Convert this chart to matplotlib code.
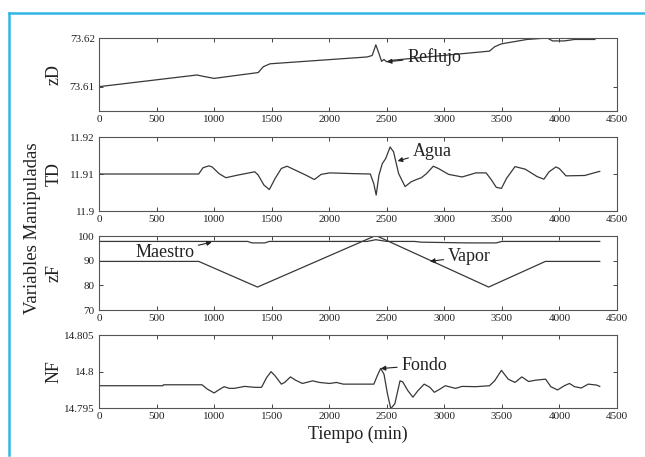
import matplotlib
matplotlib.use("Agg")
import matplotlib.pyplot as plt
from matplotlib.lines import Line2D

plt.rcParams['font.family'] = ['Liberation Serif', 'DejaVu Serif']

# ---------------- data ----------------
x_ticks = [0, 500, 1000, 1500, 2000, 2500, 3000, 3500, 4000, 4500]
x_ticklabels = ['0', '500', '1000', '1500', '2000', '2500', '3000', '3500', '4000', '4500']

zd_t = [0, 851, 910, 1000, 1383, 1427, 1486, 2328, 2373, 2405, 2432, 2455, 2475, 2500, 2535,
        3392, 3437, 3496, 3718, 3895, 3940, 4042, 4131, 4308]
zd_v = [73.6100, 73.6124, 73.6121, 73.6117, 73.6129, 73.6141, 73.6147, 73.6161, 73.6164, 73.6186,
        73.6168, 73.6152, 73.6156, 73.6151, 73.6154, 73.6173, 73.6182, 73.6188, 73.6197, 73.6200,
        73.6194, 73.6194, 73.6197, 73.6197]
zd_yticks = [73.61, 73.62]
zd_yticklabels = ['73.61', '73.62']

td_t = [0, 866, 904, 955, 983, 1043, 1102, 1205, 1353, 1383,
        1433, 1480, 1530, 1584, 1634, 1708, 1797, 1871, 1930, 2004,
        2211, 2357, 2387, 2408, 2432, 2461, 2491, 2529, 2559, 2603,
        2659, 2712, 2757, 2801, 2845, 2904, 2948, 3037, 3155, 3274,
        3363, 3407, 3451, 3496, 3540, 3614, 3703, 3806, 3865, 3910,
        3969, 3998, 4057, 4220, 4323, 4350]
td_v = [11.9100, 11.9100, 11.9117, 11.9122, 11.9119, 11.9101, 11.9090, 11.9097, 11.9106, 11.9097,
        11.9070, 11.9058, 11.9088, 11.9115, 11.9121, 11.9110, 11.9097, 11.9085, 11.9099, 11.9103,
        11.9101, 11.9100, 11.9074, 11.9043, 11.9097, 11.9128, 11.9142, 11.9173, 11.9160, 11.9101,
        11.9066, 11.9079, 11.9085, 11.9090, 11.9101, 11.9121, 11.9115, 11.9099, 11.9092, 11.9103,
        11.9103, 11.9085, 11.9064, 11.9061, 11.9088, 11.9120, 11.9113, 11.9093, 11.9086, 11.9106,
        11.9119, 11.9115, 11.9095, 11.9096, 11.9105, 11.9107]
td_yticks = [11.90, 11.91, 11.92]
td_yticklabels = ['11.9', '11.91', '11.92']

vapor_t = [0, 866, 1377, 2405, 3385, 3878, 4350]
vapor_v = [89.7, 89.7, 79.3, 100.2, 79.3, 89.7, 89.7]
maestro_t = [0, 1290, 1330, 1440, 1480, 2330, 2405, 2500, 2740, 2800, 3200, 3450, 3500, 4350]
maestro_v = [97.8, 97.8, 97.2, 97.2, 97.8, 97.8, 98.5, 97.8, 97.8, 97.5, 97.2, 97.2, 97.8, 97.8]
zf_yticks = [70, 80, 90, 100]
zf_yticklabels = ['70', '80', '90', '100']

nf_t = [0, 555, 560, 895, 940, 1000, 1043, 1087, 1132, 1176,
        1265, 1353, 1412, 1456, 1495, 1530, 1584, 1613, 1663, 1708,
        1767, 1856, 1915, 2004, 2063, 2122, 2388, 2417, 2447, 2476,
        2506, 2535, 2570, 2615, 2638, 2683, 2727, 2771, 2825, 2875,
        2913, 2963, 3008, 3097, 3155, 3274, 3392, 3437, 3496, 3555,
        3614, 3673, 3732, 3792, 3880, 3925, 3984, 4042, 4087, 4131,
        4190, 4250, 4323, 4350]
nf_v = [14.79805, 14.79805, 14.79818, 14.79818, 14.79760, 14.79706, 14.79751, 14.79792, 14.79769, 14.79769,
        14.79796, 14.79783, 14.79783, 14.79917, 14.79998, 14.79940, 14.79827, 14.79850, 14.79926, 14.79881,
        14.79836, 14.79872, 14.79850, 14.79836, 14.79850, 14.79827, 14.79827, 14.79940, 14.80043, 14.79962,
        14.79693, 14.79491, 14.79558, 14.79872, 14.79859, 14.79738, 14.79648, 14.79738, 14.79827, 14.79783,
        14.79715, 14.79760, 14.79805, 14.79769, 14.79796, 14.79792, 14.79805, 14.79872, 14.80016, 14.79895,
        14.79850, 14.79926, 14.79863, 14.79881, 14.79895, 14.79792, 14.79747, 14.79805, 14.79836, 14.79792,
        14.79774, 14.79827, 14.79814, 14.79796]
nf_yticks = [14.795, 14.800, 14.805]
nf_yticklabels = ['14.795', '14.8', '14.805']

# ---------------- figure ----------------
W, H = 645, 457
fig = plt.figure(figsize=(W / 100, H / 100), dpi=100)
fig.patch.set_facecolor('white')

line_c = '#383838'
spine_c = '#555555'
frame_c = '#33b5e5'

def px_axes(top, bottom, left=99, right=617):
    return [left / W, 1 - bottom / H, (right - left) / W, (bottom - top) / H]

def style(ax, ylim, yticks, yticklabels, ylabel):
    ax.set_xlim(0, 4500)
    ax.set_ylim(*ylim)
    ax.set_xticks(x_ticks)
    ax.set_xticklabels(x_ticklabels)
    ax.set_yticks(yticks)
    ax.set_yticklabels(yticklabels)
    ax.tick_params(direction='in', length=3, width=0.7, color='#444444',
                   top=True, right=True, labelsize=8, labelcolor='#222222', pad=3)
    for s in ax.spines.values():
        s.set_color(spine_c)
        s.set_linewidth(0.8)
    ax.set_ylabel(ylabel, fontsize=13, color='#222222', va='center')
    ax.yaxis.set_label_coords(-45 / 518, 0.5)

arrow = dict(arrowstyle='-|>', color='#222222', lw=0.8, mutation_scale=7,
             shrinkA=1, shrinkB=0)
txt_kw = dict(fontsize=13, color='#222222', ha='center', va='center')

# Panel 1 : zD
ax1 = fig.add_axes(px_axes(38, 111))
ax1.plot(zd_t, zd_v, color=line_c, lw=0.9)
style(ax1, (73.605, 73.62), zd_yticks, zd_yticklabels, 'zD')
ax1.annotate('Reflujo', xy=(2500, 73.6151), xytext=(2910, 73.6161), arrowprops=arrow, **txt_kw)

# Panel 2 : TD
ax2 = fig.add_axes(px_axes(137, 211))
ax2.plot(td_t, td_v, color=line_c, lw=0.9)
style(ax2, (11.90, 11.92), td_yticks, td_yticklabels, 'TD')
ax2.annotate('Agua', xy=(2594, 11.9135), xytext=(2893, 11.9162), arrowprops=arrow, **txt_kw)

# Panel 3 : zF
ax3 = fig.add_axes(px_axes(236, 310))
ax3.plot(vapor_t, vapor_v, color=line_c, lw=0.9)
ax3.plot(maestro_t, maestro_v, color=line_c, lw=0.9)
style(ax3, (70, 100), zf_yticks, zf_yticklabels, 'zF')
ax3.annotate('Maestro', xy=(980, 97.5), xytext=(570, 93.2), arrowprops=arrow, **txt_kw)
ax3.annotate('Vapor', xy=(2875, 89.7), xytext=(3215, 91.8), arrowprops=arrow, **txt_kw)

# Panel 4 : NF
ax4 = fig.add_axes(px_axes(335, 408))
ax4.plot(nf_t, nf_v, color=line_c, lw=0.9)
style(ax4, (14.795, 14.805), nf_yticks, nf_yticklabels, 'NF')
ax4.annotate('Fondo', xy=(2447, 14.8004), xytext=(2825, 14.80088), arrowprops=arrow, **txt_kw)
ax4.set_xlabel('Tiempo (min)', fontsize=13, color='#222222', labelpad=3)

fig.text(33 / W, 1 - 228 / H, 'Variables Manipuladas', rotation=90, fontsize=13.5,
         color='#222222', ha='center', va='center')

# cyan frame (top and left edges)
fig.add_artist(Line2D([8.5 / W, 1.0], [1 - 12.5 / H, 1 - 12.5 / H], color=frame_c, lw=1.8,
                      transform=fig.transFigure))
fig.add_artist(Line2D([8.5 / W, 8.5 / W], [1 - 12.5 / H, 1 - 455 / H], color=frame_c, lw=1.8,
                      transform=fig.transFigure))

fig.savefig('out.png', dpi=100)
